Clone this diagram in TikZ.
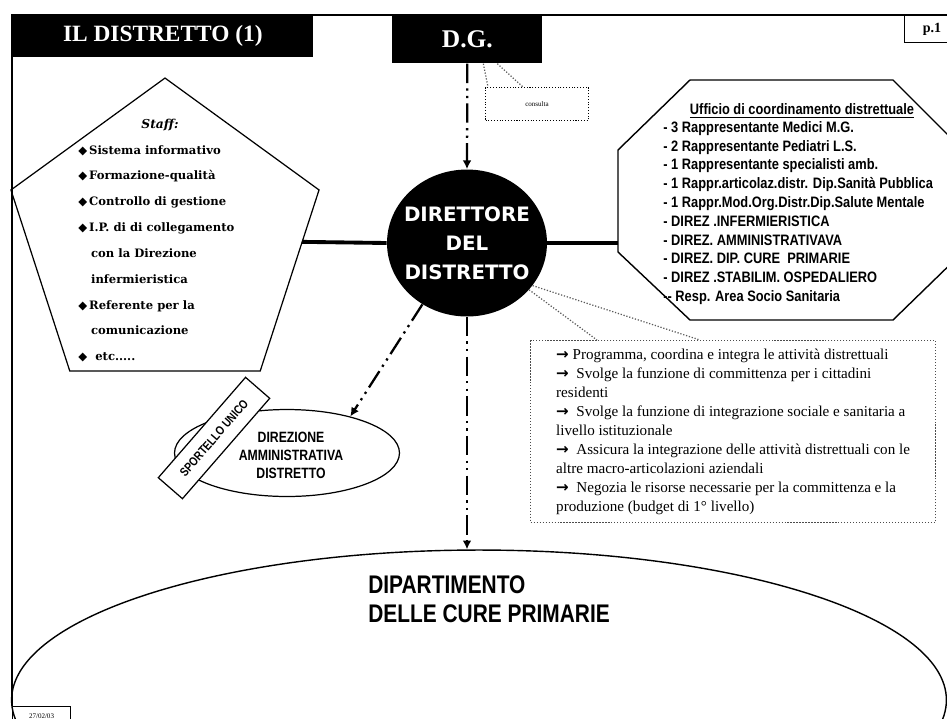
\documentclass[tikz,border=0pt]{standalone}
\usepackage{fontspec}
\setmainfont{Liberation Serif}
\newfontfamily\narrowsans{Liberation Sans}[FakeStretch=0.82]
\newfontfamily\octsans{Liberation Sans}[FakeStretch=0.85]
\newfontfamily\dvsans{DejaVu Sans}
\newfontfamily\dvserif{DejaVu Serif}
\usetikzlibrary{shapes.geometric,arrows.meta,positioning}

\newcommand{\dmd}{{\dvsans ◆}}
\newcommand{\arr}{{\dvsans\bfseries →}}

\tikzset{
  titlebox/.style={fill=black, text=white, inner sep=0pt, anchor=north west},
  dashdotdot/.style={line width=1.3pt, dash pattern=on 11pt off 3pt on 1.3pt off 3pt on 1.3pt off 3pt},
  tipdown/.style={-{Latex[length=5pt,width=5pt]}},
  dotline/.style={densely dotted, line width=0.7pt, black!65},
  bigline/.style={line width=2.2pt},
}

\begin{document}
\begin{tikzpicture}[x=0.02cm, y=-0.02cm]
  \useasboundingbox (0,0) rectangle (947,718);
  \clip (0,0) rectangle (947,718);
  % frame and headers
  \draw[line width=0.8pt] (960,15) -- (12,15) -- (12,706);
  \node[titlebox, minimum width=6.02cm, minimum height=0.84cm,
        font=\bfseries\fontsize{13.3}{15}\selectfont] (title) at (12,15) {IL DISTRETTO (1)};
  \node[titlebox, minimum width=3cm, minimum height=0.96cm,
        font=\bfseries\fontsize{14.5}{16}\selectfont] (dg) at (392,15) {D.G.};
  \node[draw, line width=0.6pt, anchor=north west, minimum width=1.1cm, minimum height=0.54cm,
        inner sep=0pt, font=\bfseries\fontsize{8}{9}\selectfont] (page) at (904,15) {p.1};
  \node[draw, densely dotted, line width=0.6pt, anchor=north west, minimum width=2.06cm,
        minimum height=0.66cm, inner sep=0pt, font=\fontsize{4}{5}\selectfont] (dgnote) at (485,87) {consulta};
  \draw[dotline] ([xshift=0.32cm]dg.south) -- ([xshift=0.06cm]dgnote.north west);
  \draw[dotline] ([xshift=0.6cm]dg.south) -- ([xshift=0.76cm]dgnote.north west);

  % staff
  \node[regular polygon, regular polygon sides=5, draw, line width=0.7pt, minimum size=6.48cm,
        inner sep=0pt, outer sep=0pt] (staff) at (165,240) {};
  \node[font=\dvserif\bfseries\itshape\fontsize{7}{8}\selectfont] (stafftitle) at (160,125) {Staff:};
  \node[anchor=north west, align=left, inner sep=0pt,
        font=\dvserif\bfseries\fontsize{6.6}{14.7}\selectfont] (stafflist) at (78,145) {%
    \dmd\,Sistema informativo\\
    \dmd\,Formazione-qualità\\
    \dmd\,Controllo di gestione\\
    \dmd\,I.P. di di collegamento\\
    \phantom{\dmd\,}\,con la Direzione\\
    \phantom{\dmd\,}\,infermieristica\\
    \dmd\,Referente per la\\
    \phantom{\dmd\,}\,comunicazione\\
    \dmd\ \ etc.....};

  % ufficio di coordinamento
  \draw[line width=0.8pt] (690,80) -- (893,80) -- (963,150) -- (963,252) -- (893,320)
    -- (690,320) -- (618,252) -- (618,150) -- cycle;
  \coordinate (ufficioW) at (618,243);
  \node[font=\octsans\bfseries\fontsize{8.6}{9}\selectfont] (ufficiotitle) at (802,111)
    {\underline{Ufficio di coordinamento distrettuale}};
  \node[anchor=north west, align=left, inner sep=0pt,
        font=\octsans\bfseries\fontsize{8.6}{10.7}\selectfont] (ufficio) at (663,121) {%
    - 3 Rappresentante Medici M.G.\\
    - 2 Rappresentante Pediatri L.S.\\
    - 1 Rappresentante specialisti amb.\\
    - 1 Rappr.articolaz.distr. Dip.Sanità Pubblica\\
    - 1 Rappr.Mod.Org.Distr.Dip.Salute Mentale\\
    - DIREZ .INFERMIERISTICA\\
    - DIREZ. AMMINISTRATIVAVA\\
    - DIREZ. DIP. CURE\ \ PRIMARIE\\
    - DIREZ .STABILIM. OSPEDALIERO\\
    -- Resp. Area Socio Sanitaria};

  % direttore
  \node[ellipse, fill=black, minimum width=3.2cm, minimum height=2.94cm, inner sep=0pt] (dir) at (467,243) {};
  \node[text=white, align=center, font=\dvsans\bfseries\fontsize{11.3}{16.5}\selectfont] (dirlabel) at (dir.center)
    {DIRETTORE\\DEL\\DISTRETTO};

  % dipartimento
  \node[ellipse, draw, line width=0.8pt, minimum width=18.7cm, minimum height=6cm] (dip) at (479,700) {};
  \node[anchor=north west, align=left, inner sep=0pt,
        font=\narrowsans\bfseries\fontsize{14.5}{16.5}\selectfont] (diplabel) at (368,575)
    {DIPARTIMENTO\\DELLE CURE PRIMARIE};

  % direzione amministrativa
  \node[ellipse, draw, line width=0.7pt, minimum width=4.5cm, minimum height=1.74cm, inner sep=0pt] (dam) at (287,453) {};
  \node[align=center, font=\narrowsans\bfseries\fontsize{8.5}{10.3}\selectfont] (damlabel) at (291,455)
    {DIREZIONE\\AMMINISTRATIVA\\DISTRETTO};
  \node[draw, fill=white, line width=0.7pt, rotate=49, minimum width=2.66cm, minimum height=0.64cm,
        inner sep=0pt, font=\narrowsans\bfseries\fontsize{7}{8}\selectfont] (sportello) at (214,438) {SPORTELLO UNICO};

  % funzioni
  \node[draw, densely dotted, line width=0.7pt, black!70, text=black, anchor=north west,
        minimum width=8.1cm, minimum height=3.64cm, inner xsep=0.2cm, align=left,
        font=\fontsize{8.6}{10.8}\selectfont] (funzioni) at (530,340) {%
    \arr\ Programma, coordina e integra le attività distrettuali\\
    \arr\ \ Svolge la funzione di committenza per i cittadini\\
    residenti\\
    \arr\ \ Svolge la funzione di integrazione sociale e sanitaria a\\
    livello istituzionale\\
    \arr\ \ Assicura la integrazione delle attività distrettuali con le\\
    altre macro-articolazioni aziendali\\
    \arr\ \ Negozia le risorse necessarie per la committenza e la\\
    produzione (budget di 1° livello)};
  \draw[dotline] (dir.-37) -- ([xshift=1.34cm]funzioni.north west);
  \draw[dotline] (dir.-33) -- ([xshift=3.4cm]funzioni.north west);

  % connectors
  \draw[dashdotdot, tipdown] (dg.south) -- (dir.north);
  \draw[dashdotdot, tipdown] (dir.south) -- (dir.south |- dip.north);
  \draw[dashdotdot, tipdown] (dir.234) -- (dam.30);
  \draw[bigline] (dir.west) -- (staff);
  \draw[bigline] (dir.east) -- (dir.east -| ufficioW);

  \node[draw, line width=0.6pt, anchor=north west, minimum width=1.16cm, minimum height=0.4cm,
        inner sep=1pt, font=\fontsize{4}{5}\selectfont] (date) at (12,706) {27/02/03};
\end{tikzpicture}
\end{document}
